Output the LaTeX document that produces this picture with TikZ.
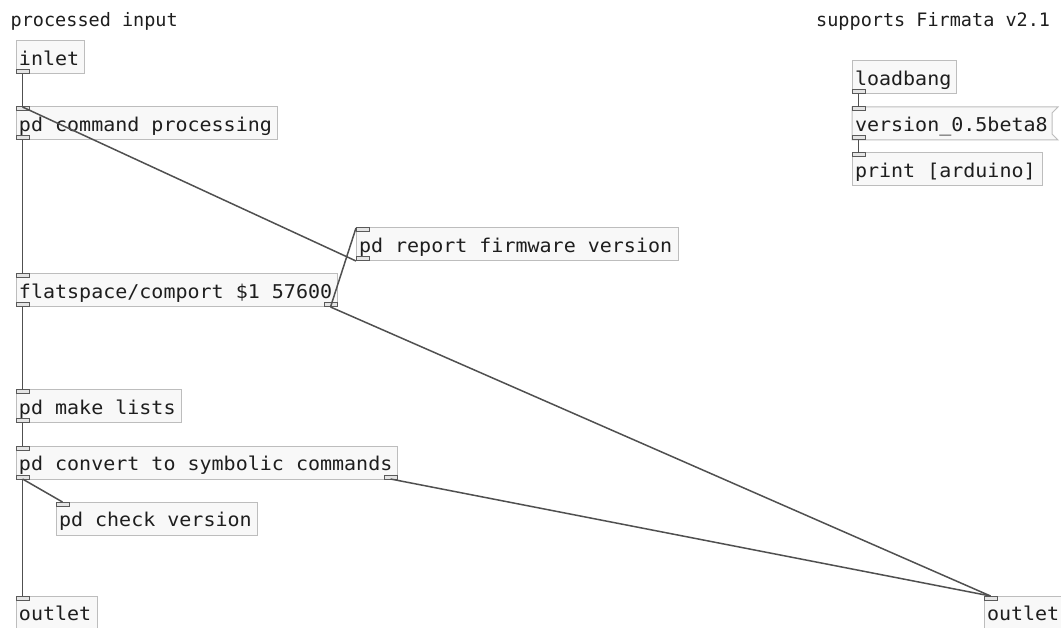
\documentclass[tikz,border=0pt]{standalone}
\usepackage{fontspec}
\newfontfamily\pdfont[FakeStretch=1.053]{DejaVu Sans Mono}
\newfontfamily\cmfont{DejaVu Sans Mono}
\usetikzlibrary{backgrounds}
\definecolor{wire}{HTML}{505050}
\definecolor{boxc}{HTML}{BDBDBD}
\definecolor{boxfill}{HTML}{F8F8F8}
\definecolor{portc}{HTML}{5A5A5A}
\definecolor{portfill}{HTML}{E4E4E4}
\definecolor{txt}{HTML}{1E1E1E}
\newcommand{\pdtxt}[2]{\makebox[#1][l]{#2}}
\begin{document}
\begin{tikzpicture}[x=1pt,y=-1pt,
  pdbox/.style={draw=boxc, fill=boxfill, line width=1pt, anchor=north west,
    inner xsep=3pt, inner ysep=0pt, outer sep=0pt, text height=24.5pt, text depth=8.5pt,
    text=txt, font=\pdfont\fontsize{19}{22}\selectfont},
  msgbox/.style={pdbox, draw=none, fill=none},
  comment/.style={anchor=base west, inner sep=0pt, text=txt, font=\cmfont\fontsize{18.5}{22}\selectfont},
  port/.style={draw=portc, fill=portfill, line width=1pt, minimum width=13pt,
    minimum height=4pt, inner sep=0pt, outer sep=0pt},
  wirestyle/.style={draw=wire, line width=1.5pt}]
\useasboundingbox (0,0) rectangle (1061,628);

% comments
\node[comment] (c1) at (10.5,27) {processed input};
\node[comment] (c2) at (816,27) {supports Firmata v2.1};

% objects
\node[pdbox] (inl) at (16,41) {\pdtxt{62pt}{inlet}};
\node[pdbox] (cmd) at (16,107) {\pdtxt{255pt}{pd command processing}};
\node[pdbox] (rep) at (356,228) {\pdtxt{316pt}{pd report firmware version}};
\node[pdbox] (fs) at (16,274) {\pdtxt{315pt}{flatspace/comport \$1 57600}};
\node[pdbox] (ml) at (16,390) {\pdtxt{159pt}{pd make lists}};
\node[pdbox] (cv) at (16,446) {\pdtxt{375pt}{pd convert to symbolic commands}};
\node[pdbox] (chk) at (56,502) {\pdtxt{195pt}{pd check version}};
\node[pdbox] (outL) at (16,596) {\pdtxt{75pt}{outlet}};
\node[pdbox] (outR) at (984,596) {\pdtxt{75pt}{outlet}};
\node[pdbox] (lb) at (852,61) {\pdtxt{98pt}{loadbang}};
\node[msgbox] (ver) at (852,107) {\pdtxt{194pt}{version\_0.5beta8}};
\node[pdbox] (pr) at (852,153) {\pdtxt{184pt}{print [arduino]}};
\begin{scope}[on background layer]
\fill[white] (0,0) rectangle (1061,628);
\draw[draw=boxc, fill=boxfill, line width=1pt]
  (ver.north west) -- ([xshift=6pt]ver.north east) -- ([yshift=-6pt]ver.north east)
  -- ([yshift=6pt]ver.south east) -- ([xshift=6pt]ver.south east) -- (ver.south west) -- cycle;
\end{scope}

% ports
\node[port, anchor=south west] (inl-o) at (inl.south west) {};
\node[port, anchor=north west] (cmd-i) at (cmd.north west) {};
\node[port, anchor=south west] (cmd-o) at (cmd.south west) {};
\node[port, anchor=north west] (rep-i) at (rep.north west) {};
\node[port, anchor=south west] (rep-o) at (rep.south west) {};
\node[port, anchor=north west] (fs-i) at (fs.north west) {};
\node[port, anchor=south west] (fs-o0) at (fs.south west) {};
\node[port, anchor=south east] (fs-o1) at (fs.south east) {};
\node[port, anchor=north west] (ml-i) at (ml.north west) {};
\node[port, anchor=south west] (ml-o) at (ml.south west) {};
\node[port, anchor=north west] (cv-i) at (cv.north west) {};
\node[port, anchor=south west] (cv-o0) at (cv.south west) {};
\node[port, anchor=south east] (cv-o1) at (cv.south east) {};
\node[port, anchor=north west] (chk-i) at (chk.north west) {};
\node[port, anchor=north west] (outL-i) at (outL.north west) {};
\node[port, anchor=north west] (outR-i) at (outR.north west) {};
\node[port, anchor=south west] (lb-o) at (lb.south west) {};
\node[port, anchor=north west] (ver-i) at (ver.north west) {};
\node[port, anchor=south west] (ver-o) at (ver.south west) {};
\node[port, anchor=north west] (pr-i) at (pr.north west) {};

% wires
\draw[wirestyle] (inl-o.south) -- (cmd-i.north);
\draw[wirestyle] (rep-o.south west) -- (cmd-i.north);
\draw[wirestyle] (cmd-o.south) -- (fs-i.north);
\draw[wirestyle] (fs-o1.south) -- (rep-i.north west);
\draw[wirestyle] (fs-o1.south) -- (outR-i.north);
\draw[wirestyle] (fs-o0.south) -- (ml-i.north);
\draw[wirestyle] (ml-o.south) -- (cv-i.north);
\draw[wirestyle] (cv-o0.south) -- (chk-i.north);
\draw[wirestyle] (cv-o0.south) -- (outL-i.north);
\draw[wirestyle] (cv-o1.south) -- (outR-i.north);
\draw[wirestyle] (lb-o.south) -- (ver-i.north);
\draw[wirestyle] (ver-o.south) -- (pr-i.north);
\end{tikzpicture}
\end{document}
